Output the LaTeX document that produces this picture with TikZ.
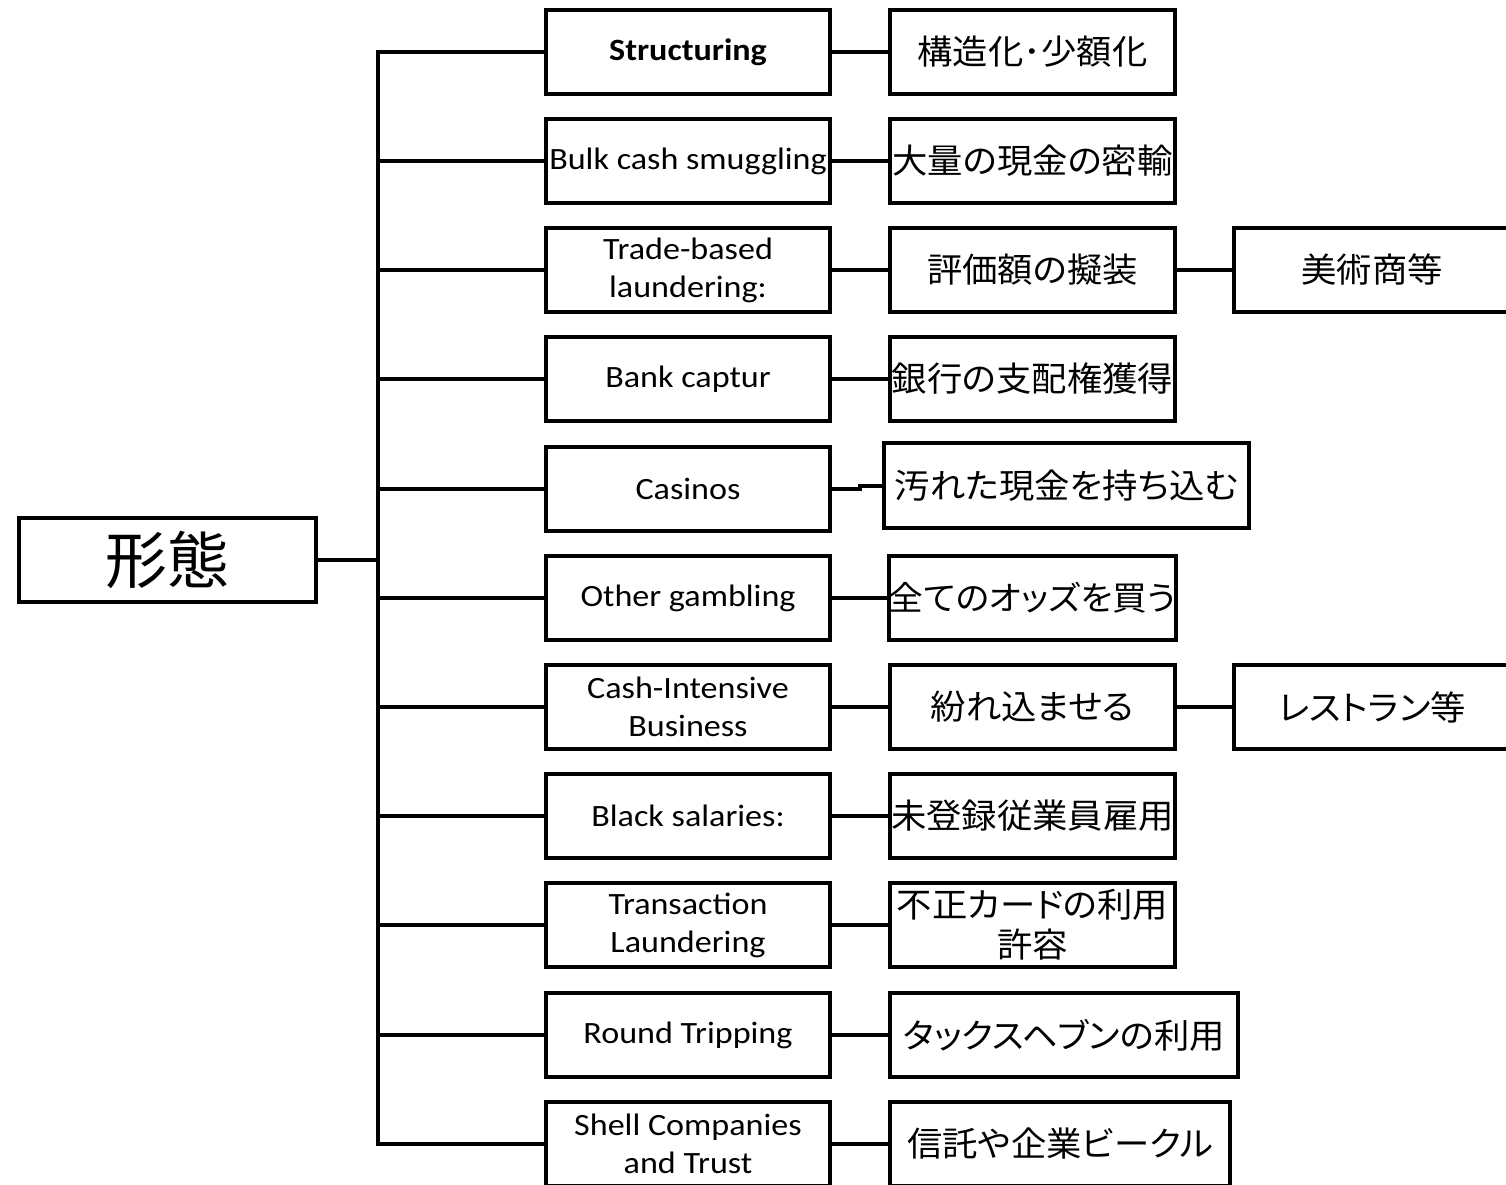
\documentclass[tikz,border=0pt]{standalone}
\usepackage{fontspec}
\setmainfont[FakeStretch=1.1]{Carlito}
\newfontfamily\jp[FakeStretch=1.04,RawFeature=+palt]{Noto Sans CJK JP}
\newfontfamily\jproot{Noto Sans CJK JP}
\begin{document}
\begin{tikzpicture}[x=1pt,y=-1pt,
  bx/.style={draw=black,line width=4pt,rectangle,inner sep=0pt,minimum height=84pt,align=center,
    font=\fontsize{31}{38}\selectfont},
  jbx/.style={bx,font=\jp\fontsize{34}{40}\selectfont},
  ln/.style={line width=4pt}]
\useasboundingbox (0,0) rectangle (1506,1184);
\clip (0,0) rectangle (1506,1184);
\node[bx,minimum width=297pt,minimum height=84pt,font=\jproot\fontsize{62}{62}\selectfont] (root) at (167.5,560) {形態};
% column 1
\node[bx,minimum width=284pt,font=\bfseries\fontsize{31}{38}\selectfont] (a1) at (688,52) {Structuring};
\node[bx,minimum width=284pt] (a2) at (688,161) {Bulk cash smuggling};
\node[bx,minimum width=284pt] (a3) at (688,270) {Trade-based\\laundering:};
\node[bx,minimum width=284pt] (a4) at (688,379) {Bank captur};
\node[bx,minimum width=284pt] (a5) at (688,489) {Casinos};
\node[bx,minimum width=284pt] (a6) at (688,598) {Other gambling};
\node[bx,minimum width=284pt] (a7) at (688,707) {Cash-Intensive\\Business};
\node[bx,minimum width=284pt] (a8) at (688,816) {Black salaries:};
\node[bx,minimum width=284pt] (a9) at (688,925) {Transaction\\Laundering};
\node[bx,minimum width=284pt] (a10) at (688,1035) {Round Tripping};
\node[bx,minimum width=284pt] (a11) at (688,1144) {Shell Companies\\and Trust};
% column 2
\node[jbx,minimum width=285pt] (b1) at (1032.5,52) {構造化･少額化};
\node[jbx,minimum width=285pt] (b2) at (1032.5,161) {大量の現金の密輸};
\node[jbx,minimum width=285pt] (b3) at (1032.5,270) {評価額の擬装};
\node[jbx,minimum width=285pt] (b4) at (1032.5,379) {銀行の支配権獲得};
\node[jbx,minimum width=365pt,minimum height=85pt] (b5) at (1066.5,485.5) {汚れた現金を持ち込む};
\node[jbx,minimum width=285pt,font=\jp\fontsize{33.4}{40}\selectfont] (b6) at (1032.5,598) {全てのオッズを買う};
\node[jbx,minimum width=285pt] (b7) at (1032.5,707) {紛れ込ませる};
\node[jbx,minimum width=285pt] (b8) at (1032.5,816) {未登録従業員雇用};
\node[jbx,minimum width=285pt] (b9) at (1032.5,925) {不正カードの利用\\許容};
\node[jbx,minimum width=348pt] (b10) at (1064,1035) {タックスヘブンの利用};
\node[jbx,minimum width=340pt] (b11) at (1060,1144) {信託や企業ビークル};
% column 3
\node[jbx,minimum width=276pt] (c3) at (1372,270) {美術商等};
\node[jbx,minimum width=276pt] (c7) at (1372,707) {レストラン等};
% trunk
\coordinate (ttop) at (378,50);
\coordinate (tbot) at (378,1146);
\draw[ln] (ttop) -- (tbot);
\draw[ln] (root.east) -- (root.east -| ttop);
\foreach \i in {1,...,11}{\draw[ln] (ttop |- a\i.west) -- (a\i.west);}
\foreach \i in {1,2,3,4,6,7,8,9,10,11}{\draw[ln] (a\i.east) -- (b\i.west);}
\draw[ln] (a5.east) -- ++(28,0) |- (b5.west);
\draw[ln] (b3.east) -- (c3.west);
\draw[ln] (b7.east) -- (c7.west);
\end{tikzpicture}
\end{document}
